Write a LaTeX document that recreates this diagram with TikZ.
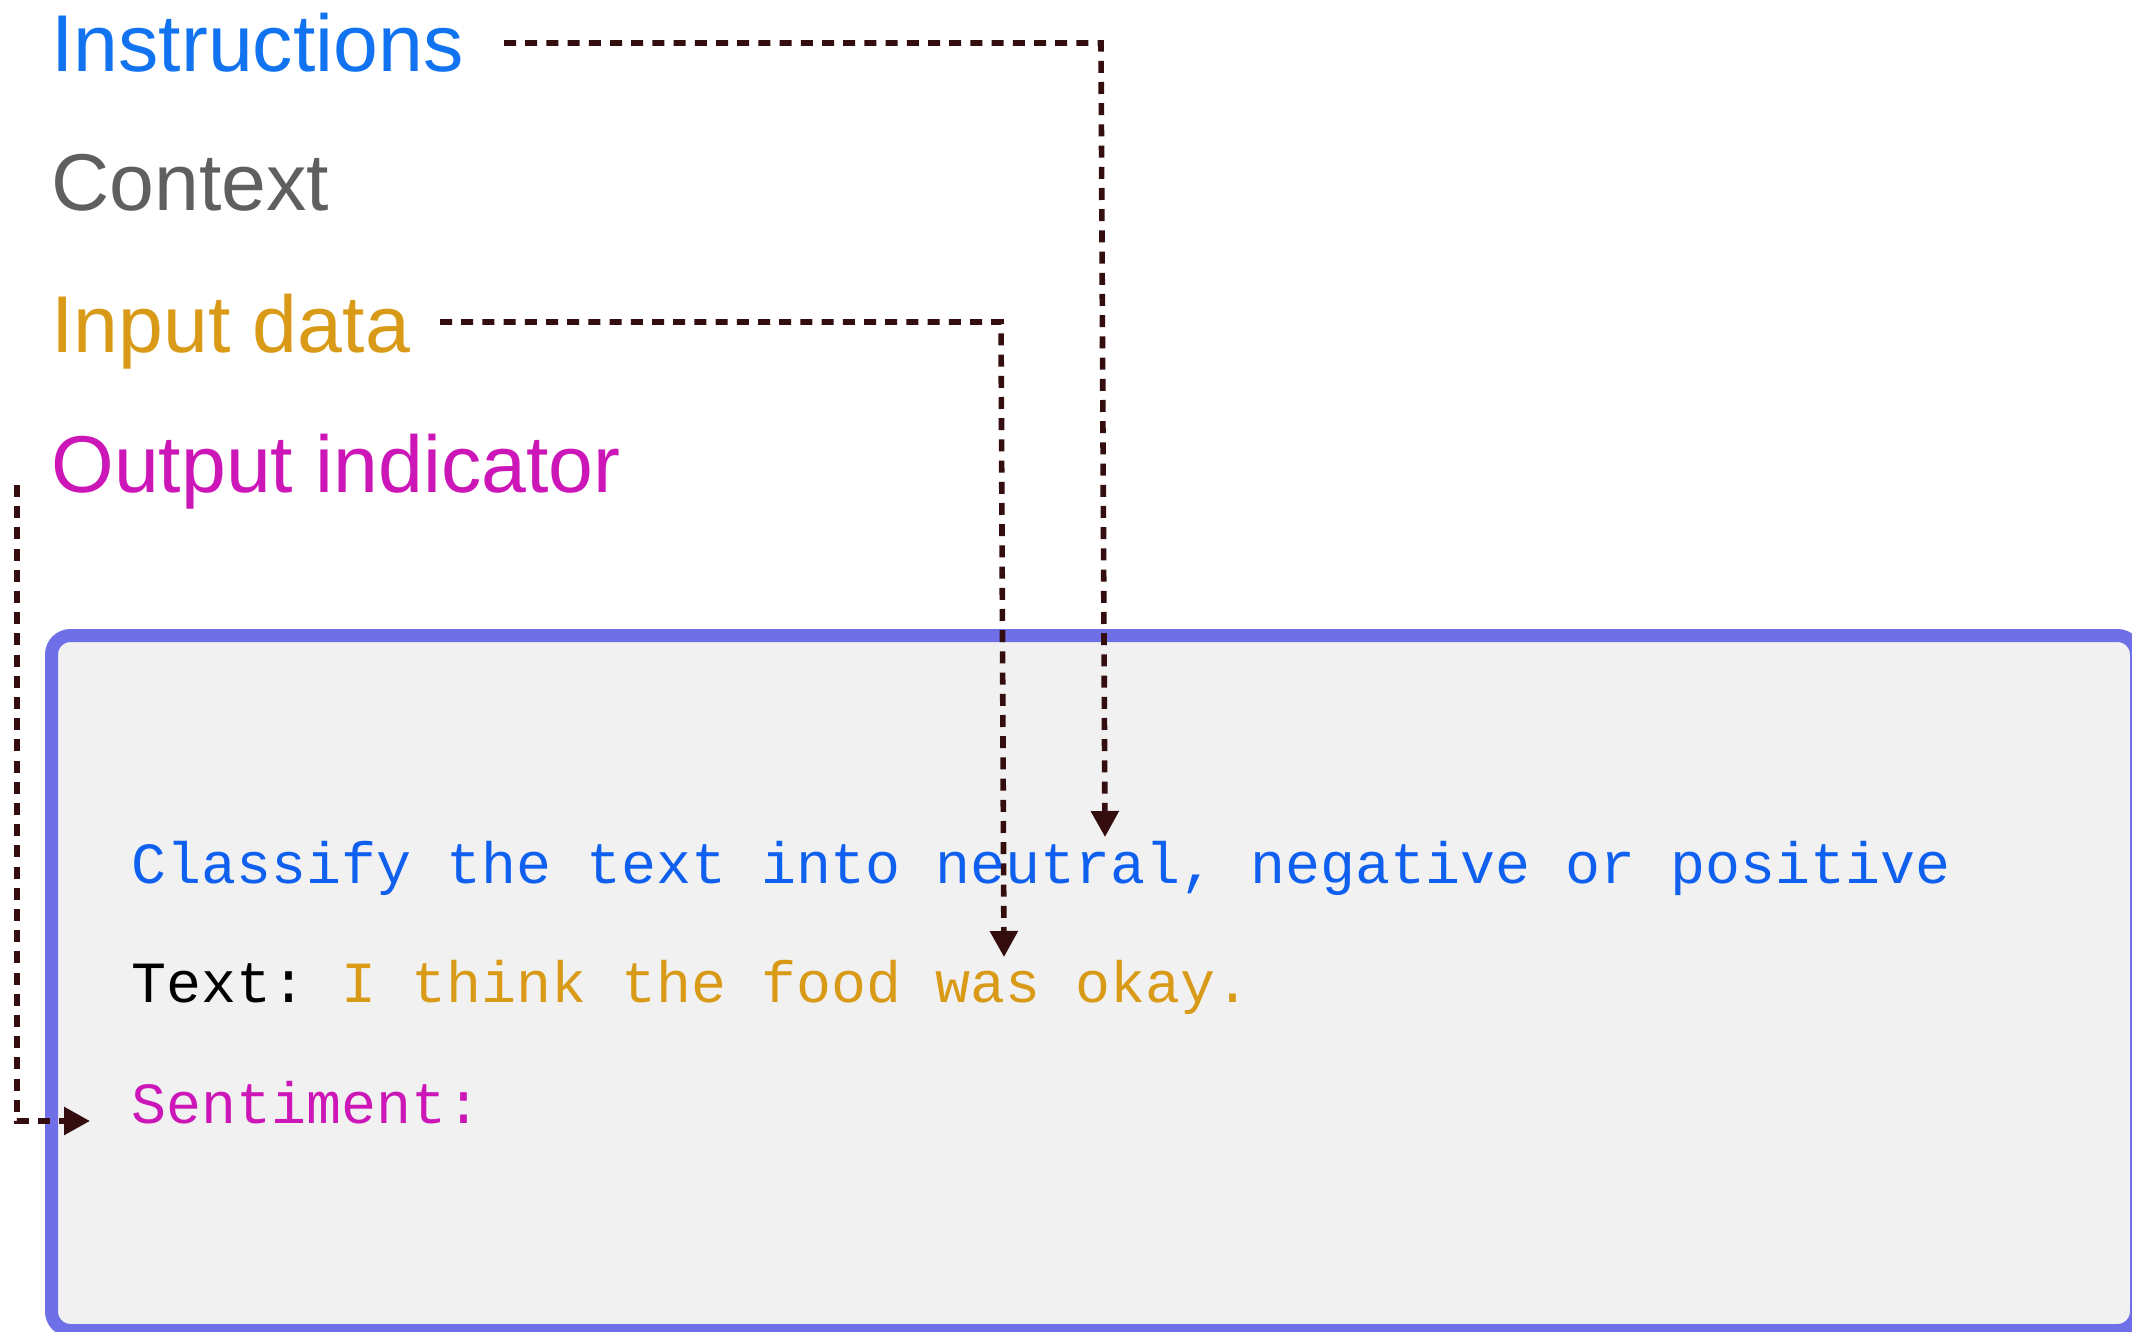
\documentclass[tikz,border=0pt]{standalone}
\usepackage{fontspec}
\setmainfont{Liberation Sans}
\newfontfamily\codefont{Liberation Mono}
\usetikzlibrary{arrows.meta}
\definecolor{instrblue}{RGB}{17,115,240}
\definecolor{ctxgray}{RGB}{95,95,95}
\definecolor{inputgold}{RGB}{217,154,24}
\definecolor{outmag}{RGB}{204,22,184}
\definecolor{boxblue}{RGB}{111,111,232}
\definecolor{boxfill}{RGB}{241,241,241}
\definecolor{arrowbrown}{RGB}{52,14,14}
\definecolor{monoblue}{RGB}{16,96,240}
\frenchspacing
\begin{document}
\begin{tikzpicture}[x=0.5pt,y=-0.5pt,
  lbl/.style={anchor=base west, inner sep=0pt, font=\fontsize{40.3}{48}\selectfont},
  code/.style={anchor=base west, inner sep=0pt, font=\codefont\fontsize{29.15}{34}\selectfont},
  pointer/.style={draw=arrowbrown, line width=2.8pt, dash pattern=on 6pt off 4.6pt,
    -{Triangle[length=13pt,width=13.5pt]}, fill=none}
]
\useasboundingbox (0,0) rectangle (2132,1332);
\clip (0,0) rectangle (2132,1332);
\fill[white] (0,0) rectangle (2132,1332);

% prompt box
\draw[draw=boxblue, fill=boxfill, line width=6.5pt, rounded corners=9.5pt]
  (51.5,635.5) rectangle (2136.5,1330.5);

% labels
\node[lbl, text=instrblue] (instr) at (51,72) {Instructions};
\node[lbl, text=ctxgray] (ctx) at (51,211) {Context};
\node[lbl, text=inputgold] (inp) at (51,352) {Input data};
\node[lbl, text=outmag] (outp) at (51,492) {Output indicator};

% prompt text
\node[code, text=monoblue] (cls) at (131,883) {Classify the text into neutral, negative or positive};
\node[code, text=black] (txt) at (131,1002) {Text: \textcolor{inputgold}{I think the food was okay.}};
\node[code, text=outmag] (sent) at (131,1123) {Sentiment:};

% connector points
\coordinate (instrStart) at (504,43);
\coordinate (instrBend) at (1101,43);
\coordinate (instrTip) at (1105,837);
\coordinate (inpStart) at (440,322);
\coordinate (inpBend) at (1001,322);
\coordinate (inpTip) at (1004,957);
\coordinate (outStart) at (17,485);
\coordinate (outBend) at (17,1121);
\coordinate (outTip) at (90,1121);

\draw[pointer] (instrStart) -- (instrBend) -- (instrTip);
\draw[pointer] (inpStart) -- (inpBend) -- (inpTip);
\draw[pointer] (outStart) -- (outBend) -- (outTip);
\end{tikzpicture}
\end{document}
